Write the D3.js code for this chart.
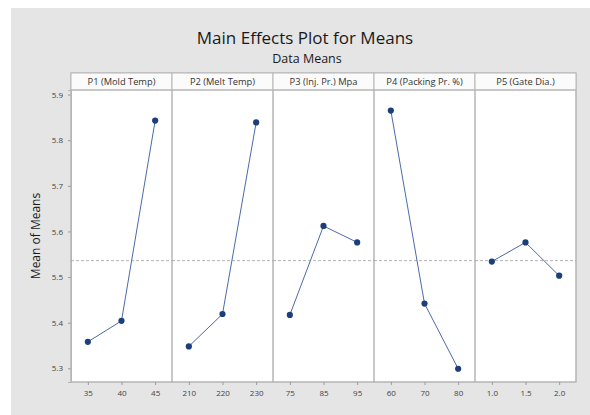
<!DOCTYPE html>
<html>
<head>
<meta charset="utf-8">
<script src="https://cdn.jsdelivr.net/npm/d3@7"></script>
<style>
  html, body { margin: 0; padding: 0; background: #fff; }
  svg { display: block; }
  text { font-family: "Open Sans", "Noto Sans", sans-serif; }
</style>
</head>
<body>
<svg id="chart" width="590" height="415"></svg>
<script>
// ---- Data ----
const factors = ["P1 (Mold Temp)", "P2 (Melt Temp)", "P3 (Inj. Pr.) Mpa", "P4 (Packing Pr. %)", "P5 (Gate Dia.)"];
const levelsP1 = ["35", "40", "45"];
const levelsP2 = ["210", "220", "230"];
const levelsP3 = ["75", "85", "95"];
const levelsP4 = ["60", "70", "80"];
const levelsP5 = ["1.0", "1.5", "2.0"];
const meansP1 = [5.358, 5.404, 5.843];
const meansP2 = [5.348, 5.419, 5.839];
const meansP3 = [5.417, 5.612, 5.576];
const meansP4 = [5.865, 5.442, 5.299];
const meansP5 = [5.534, 5.576, 5.503];
const grandMean = 5.536;
const yTicks = [5.3, 5.4, 5.5, 5.6, 5.7, 5.8, 5.9];

const levels = [levelsP1, levelsP2, levelsP3, levelsP4, levelsP5];
const means = [meansP1, meansP2, meansP3, meansP4, meansP5];

// ---- Layout ----
(function () {
const svg = d3.select("#chart");
const W = 590, H = 415;
const pLeft = 71, pRight = 576, pTop = 90, pBottom = 382, headTop = 73;

svg.append("rect").attr("x", 11).attr("y", 8).attr("width", W - 11).attr("height", H - 8)
  .attr("fill", "#e5e5e5");

svg.append("text").attr("x", 305).attr("y", 44).attr("text-anchor", "middle")
  .attr("font-size", 17).attr("fill", "#1a1a1a").text("Main Effects Plot for Means");
svg.append("text").attr("x", 307).attr("y", 63).attr("text-anchor", "middle")
  .attr("font-size", 12.5).attr("fill", "#1a1a1a").text("Data Means");

const y = d3.scaleLinear().domain([5.27, 5.91]).range([pBottom, pTop]);
const panelX = d3.scaleBand().domain(factors).range([pLeft, pRight]).paddingInner(0);

// plot background
svg.append("rect").attr("x", pLeft).attr("y", headTop).attr("width", pRight - pLeft)
  .attr("height", pBottom - headTop).attr("fill", "#fff").attr("stroke", "#b5b5b5");

// y axis
const yAxis = d3.axisLeft(y).tickValues(yTicks).tickFormat(d3.format(".1f")).tickSize(3).tickPadding(5);
const gy = svg.append("g").attr("transform", `translate(${pLeft},0)`).call(yAxis);
gy.select(".domain").attr("stroke", "#b5b5b5");
gy.selectAll(".tick line").attr("stroke", "#999");
gy.selectAll(".tick text").attr("font-size", 8).attr("fill", "#444")
  .style("font-family", "'Open Sans', sans-serif");

svg.append("text").attr("transform", `translate(40,${(pTop + pBottom) / 2}) rotate(-90)`)
  .attr("text-anchor", "middle").attr("font-size", 12).attr("fill", "#1a1a1a").text("Mean of Means");

factors.forEach((f, i) => {
  const x0 = panelX(f), bw = panelX.bandwidth();
  const g = svg.append("g");
  // header
  g.append("rect").attr("x", x0).attr("y", headTop).attr("width", bw).attr("height", pTop - headTop)
    .attr("fill", "#fbfbfb").attr("stroke", "#b5b5b5");
  g.append("text").attr("x", x0 + bw / 2).attr("y", headTop + 11.5).attr("text-anchor", "middle")
    .attr("font-size", 9.3).attr("fill", "#333").text(f);
  // panel border
  g.append("rect").attr("x", x0).attr("y", pTop).attr("width", bw).attr("height", pBottom - pTop)
    .attr("fill", "none").attr("stroke", "#b5b5b5");

  const x = d3.scalePoint().domain(levels[i]).range([x0, x0 + bw]).padding(0.5);
  // x axis
  const xAxis = d3.axisBottom(x).tickSize(3).tickPadding(5);
  const gx = svg.append("g").attr("transform", `translate(0,${pBottom})`).call(xAxis);
  gx.select(".domain").remove();
  gx.selectAll(".tick line").attr("stroke", "#999");
  gx.selectAll(".tick text").attr("font-size", 8).attr("fill", "#444")
    .style("font-family", "'Open Sans', sans-serif");

  // mean reference line
  g.append("line").attr("x1", x0).attr("x2", x0 + bw).attr("y1", y(grandMean)).attr("y2", y(grandMean))
    .attr("stroke", "#a0a0a0").attr("stroke-width", 0.8).attr("stroke-dasharray", "3,2");

  const pts = levels[i].map((l, j) => ({ l, v: means[i][j] }));
  const line = d3.line().x(d => x(d.l)).y(d => y(d.v));
  g.append("path").datum(pts).attr("d", line).attr("fill", "none")
    .attr("stroke", "#4a6aa8").attr("stroke-width", 1);
  g.selectAll("circle").data(pts).join("circle")
    .attr("cx", d => x(d.l)).attr("cy", d => y(d.v)).attr("r", 3.1)
    .attr("fill", "#1c3f7c");
});
})();
</script>
</body>
</html>
